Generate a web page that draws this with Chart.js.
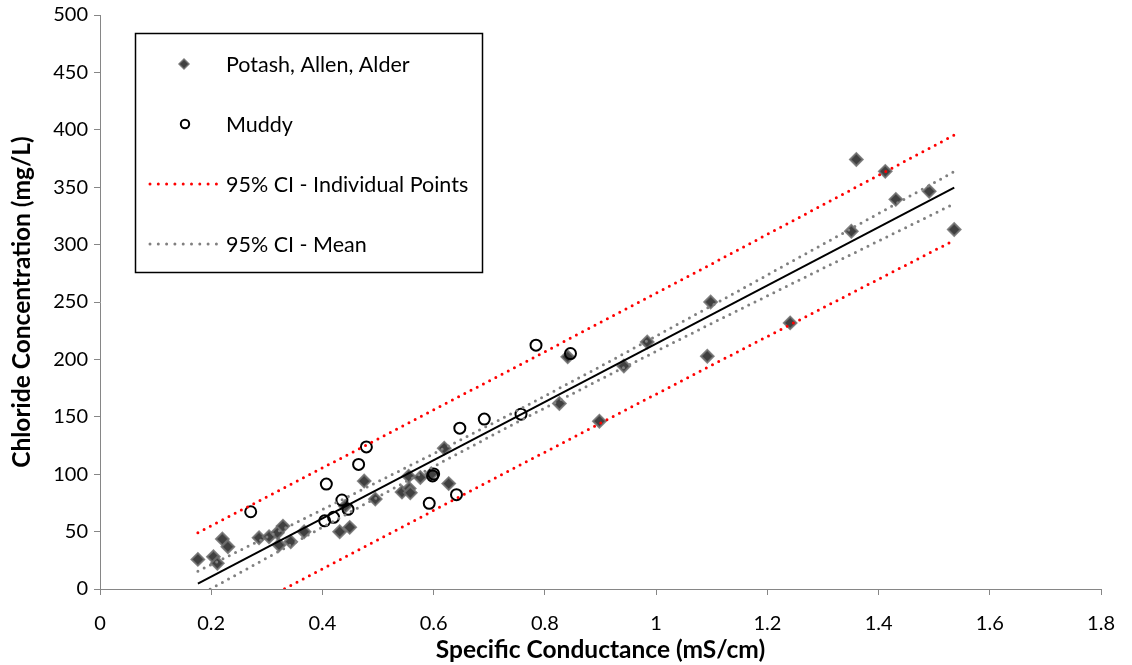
<!DOCTYPE html>
<html>
<head>
<meta charset="utf-8">
<script src="https://cdn.jsdelivr.net/npm/chart.js@4/dist/chart.umd.min.js"></script>
<style>
  html, body { margin: 0; padding: 0; background: #fff; }
  #wrap { width: 1132px; height: 665px; }
</style>
</head>
<body>
<div id="wrap"><canvas id="chart" width="1132" height="665"></canvas></div>
<script>
// chloride vs specific conductance - scatter + regression + 95% bands

// Potash, Allen, Alder (diamonds)
const potashX = [0.176, 0.204, 0.211, 0.220, 0.230, 0.286, 0.304, 0.319, 0.322, 0.329, 0.343, 0.367,
  0.431, 0.441, 0.449, 0.475, 0.495, 0.543, 0.556, 0.558, 0.555, 0.576, 0.596, 0.619, 0.627,
  0.826, 0.841, 0.898, 0.942, 0.984, 1.092, 1.098, 1.241, 1.351, 1.360, 1.412, 1.431, 1.491, 1.536];
const potashY = [25.8, 28.1, 22.4, 43.5, 36.8, 44.6, 45.5, 49.0, 38.3, 54.8, 41.2, 49.9,
  49.9, 72.2, 53.7, 94.0, 78.3, 84.4, 87.5, 83.8, 98.3, 97.2, 100.1, 122.7, 91.8,
  161.6, 202.2, 146.2, 194.3, 215.2, 202.8, 250.0, 231.8, 311.6, 374.2, 363.8, 339.4, 346.4, 313.1];

// Muddy (open circles)
const muddyX = [0.271, 0.404, 0.407, 0.420, 0.435, 0.446, 0.465, 0.479, 0.592, 0.598, 0.600,
  0.641, 0.647, 0.691, 0.757, 0.784, 0.846];
const muddyY = [67.3, 59.4, 91.4, 62.4, 77.5, 69.4, 108.5, 123.8, 74.6, 98.5, 100.2,
  82.2, 140.1, 148.0, 152.3, 212.4, 205.1];

// regression line
const fitX = [0.176, 1.536];
const fitY = [4.7, 349.6];

// 95% CI - individual points (red)
const piX = [0.176, 0.45, 0.75, 1.1, 1.536];
const piUpper = [49.0, 118.1, 194.0, 283.2, 395.4];
const piLower = [-39.6, 30.3, 106.6, 195.0, 303.8];

// 95% CI - mean (grey)
const ciX = [0.176, 0.4, 0.6, 0.75, 0.9, 1.1, 1.3, 1.536];
const ciUpper = [15.5, 69.2, 117.9, 155.3, 193.9, 246.8, 300.3, 363.6];
const ciLower = [-6.1, 53.8, 106.7, 145.3, 182.7, 231.4, 279.3, 335.6];

// axis ticks
const xTicks = [0, 0.2, 0.4, 0.6, 0.8, 1, 1.2, 1.4, 1.6, 1.8];
const xTickLabels = ["0", "0.2", "0.4", "0.6", "0.8", "1", "1.2", "1.4", "1.6", "1.8"];
const yTicks = [0, 50, 100, 150, 200, 250, 300, 350, 400, 450, 500];
const yTickLabels = ["0", "50", "100", "150", "200", "250", "300", "350", "400", "450", "500"];

const FONT = "Lato";
const AXIS_GREY = "#868686";
const RED = "#ff0000";
const GREY = "#808080";
const DIAMOND_FILL = "#404040";
const DIAMOND_EDGE = "rgba(110,110,110,0.85)";

const pts = (xs, ys) => xs.map((x, i) => ({ x, y: ys[i] }));

const dotted = (color) => ({
    showLine: true,
    pointRadius: 0,
    borderColor: color,
    borderWidth: 3,
    borderDash: [0, 7],
    borderCapStyle: "round",
    clip: 0,
    fill: false
});

// legend box drawn inside the plot, like the Excel one
const boxLegend = {
    id: "boxLegend",
    afterDraw(chart) {
        const ctx = chart.ctx;
        ctx.save();
        ctx.strokeStyle = "#000";
        ctx.lineWidth = 1.5;
        ctx.strokeRect(135.5, 33.5, 347, 239);

        ctx.font = `21.5px ${FONT}`;
        ctx.fillStyle = "#000";
        ctx.textBaseline = "middle";
        const tx = 226;
        const rows = [64, 124, 184, 244];
        const labels = ["Potash, Allen, Alder", "Muddy", "95% CI - Individual Points", "95% CI - Mean"];

        // diamond
        ctx.beginPath();
        ctx.moveTo(184, rows[0] - 5);
        ctx.lineTo(189, rows[0]);
        ctx.lineTo(184, rows[0] + 5);
        ctx.lineTo(179, rows[0]);
        ctx.closePath();
        ctx.fillStyle = DIAMOND_FILL;
        ctx.fill();
        ctx.strokeStyle = DIAMOND_EDGE;
        ctx.lineWidth = 1.5;
        ctx.stroke();

        // circle
        ctx.beginPath();
        ctx.arc(185, rows[1], 4.2, 0, Math.PI * 2);
        ctx.strokeStyle = "#000";
        ctx.lineWidth = 2;
        ctx.stroke();

        // dotted samples
        ctx.lineCap = "round";
        ctx.setLineDash([0, 8.3]);
        ctx.lineWidth = 3;
        ctx.strokeStyle = RED;
        ctx.beginPath(); ctx.moveTo(150, rows[2]); ctx.lineTo(217, rows[2]); ctx.stroke();
        ctx.strokeStyle = GREY;
        ctx.beginPath(); ctx.moveTo(150, rows[3]); ctx.lineTo(217, rows[3]); ctx.stroke();
        ctx.setLineDash([]);

        ctx.fillStyle = "#000";
        labels.forEach((t, i) => ctx.fillText(t, tx, rows[i] + 1));
        ctx.restore();
    }
};

new Chart(document.getElementById("chart"), {
    type: "scatter",
    data: {
        datasets: [
            Object.assign({ label: "95% CI - Individual Points upper", data: pts(piX, piUpper), order: 2 }, dotted(RED)),
            Object.assign({ label: "95% CI - Individual Points lower", data: pts(piX, piLower), order: 2 }, dotted(RED)),
            Object.assign({ label: "95% CI - Mean upper", data: pts(ciX, ciUpper), order: 3 }, dotted(GREY)),
            Object.assign({ label: "95% CI - Mean lower", data: pts(ciX, ciLower), order: 3 }, dotted(GREY)),
            {
                label: "Fit",
                data: pts(fitX, fitY),
                showLine: true,
                pointRadius: 0,
                borderColor: "#000",
                borderWidth: 2,
                clip: 0,
                order: 1
            },
            {
                label: "Muddy",
                data: pts(muddyX, muddyY),
                pointStyle: "circle",
                pointRadius: 5.5,
                backgroundColor: "rgba(255,255,255,0)",
                borderColor: "#000",
                borderWidth: 2,
                order: 4
            },
            {
                label: "Potash, Allen, Alder",
                data: pts(potashX, potashY),
                pointStyle: "rectRot",
                pointRadius: 6.3,
                backgroundColor: DIAMOND_FILL,
                borderColor: DIAMOND_EDGE,
                borderWidth: 2,
                order: 5
            }
        ]
    },
    options: {
        responsive: false,
        animation: false,
        events: [],
        layout: { padding: { top: 15, right: 26, left: 0, bottom: 0 } },
        plugins: {
            legend: { display: false },
            tooltip: { enabled: false }
        },
        scales: {
            x: {
                type: "linear",
                min: 0,
                max: 1.8,
                afterFit: s => { s.height = 76; },
                afterBuildTicks: s => { s.ticks = xTicks.map(v => ({ value: v })); },
                grid: { drawOnChartArea: false, drawTicks: true, tickLength: 6, color: AXIS_GREY },
                border: { color: AXIS_GREY, width: 1 },
                ticks: {
                    color: "#000",
                    padding: 17,
                    maxRotation: 0,
                    font: { family: FONT, size: 20 },
                    callback: (v) => xTickLabels[xTicks.indexOf(v)]
                },
                title: {
                    display: true,
                    text: "Specific Conductance (mS/cm)",
                    color: "#000",
                    font: { family: FONT, size: 24.5, weight: "bold" },
                    padding: { top: 0, bottom: 0 }
                }
            },
            y: {
                type: "linear",
                min: 0,
                max: 500,
                afterFit: s => { s.width = 100; s.paddingTop = 0; s.paddingBottom = 0; },
                afterBuildTicks: s => { s.ticks = yTicks.map(v => ({ value: v })); },
                grid: { drawOnChartArea: false, drawTicks: true, tickLength: 6, color: AXIS_GREY },
                border: { color: AXIS_GREY, width: 1 },
                ticks: {
                    color: "#000",
                    padding: 6,
                    font: { family: FONT, size: 20 },
                    callback: (v) => yTickLabels[yTicks.indexOf(v)]
                },
                title: {
                    display: true,
                    text: "Chloride Concentration (mg/L)",
                    color: "#000",
                    font: { family: FONT, size: 24.5, weight: "bold" },
                    padding: { top: 7, bottom: 0 }
                }
            }
        }
    },
    plugins: [boxLegend]
});
</script>
</body>
</html>
